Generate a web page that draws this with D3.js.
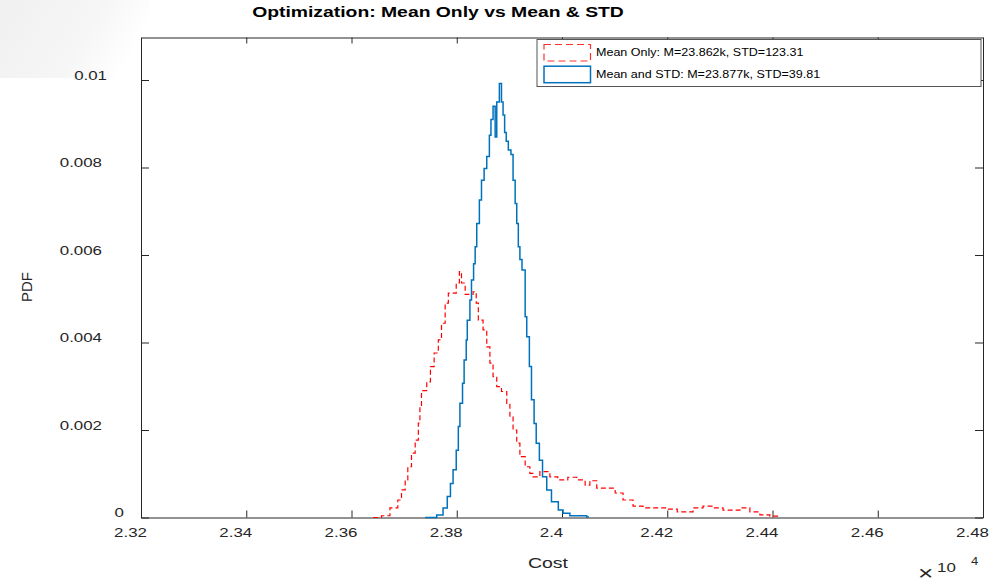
<meta charset="utf-8">
<html>
<head>
<style>
  body { margin: 0; background: #fff; }
  text { font-family: Arial, "Liberation Sans", Helvetica, sans-serif; fill: #262626; }
  .axis line, .axis path { stroke: #262626; stroke-width: 1; }
  .axis text { font-size: 13px; fill: #262626; }
</style>
</head>
<body>
<script src="https://cdnjs.cloudflare.com/ajax/libs/d3/7.8.5/d3.min.js"></script>
<div id="chart"></div>
<script>
// cost values are in units of 10^4, pdf values as plotted
var costMeanOnly = [2.3641,2.3657,2.3673,2.3688,2.3695,2.3702,2.3707,2.3714,2.3721,2.3727,
  2.3730,2.3733,2.3743,2.3750,2.3757,2.3765,2.3771,2.3778,2.3784,2.3793,
  2.3799,2.3805,2.3809,2.3816,2.3825,2.3831,2.3837,2.3841,2.3850,2.3857,
  2.3863,2.3869,2.3876,2.3885,2.3895,2.3901,2.3907,2.3914,2.3920,2.3930,
  2.3939,2.3945,2.3958,2.3977,2.3992,2.4011,2.4028,2.4044,2.4053,2.4066,
  2.4082,2.4101,2.4116,2.4135,2.4154,2.4181,2.4201,2.4219,2.4234,2.4249,
  2.4268,2.4287,2.4306,2.4325,2.4338,2.4357,2.4376,2.4395,2.4414];
var pdfMeanOnly = [0,0.00004,0.00022,0.0004,0.00063,0.00086,0.00116,0.00147,0.00177,0.00216,
  0.00253,0.0029,0.0031,0.00345,0.00376,0.00406,0.00444,0.0049,0.00513,0.00513,
  0.00536,0.00562,0.00536,0.0051,0.0051,0.00516,0.0049,0.00451,0.00429,0.0039,
  0.00353,0.00322,0.00299,0.00288,0.00261,0.0023,0.002,0.0017,0.00139,0.00116,
  0.00101,0.00093,0.00105,0.00093,0.00086,0.00092,0.00086,0.00074,0.00084,0.00067,
  0.00067,0.00056,0.0004,0.00026,0.00022,0.00022,0.00019,0.00013,0.00013,0.00022,
  0.00026,0.00022,0.00017,0.00017,0.00022,0.00013,0.00006,0.00003,0];

var costMeanStd = [2.3740,2.3762,2.3774,2.3782,2.3788,2.3793,2.3799,2.3803,2.3806,2.3811,
  2.3814,2.3818,2.3820,2.3825,2.3828,2.3832,2.3835,2.3838,2.3843,2.3847,
  2.3852,2.3857,2.3862,2.3865,2.3869,2.3873,2.3876,2.3881,2.3885,2.3888,
  2.3891,2.3894,2.3898,2.3903,2.3907,2.3911,2.3914,2.3917,2.3920,2.3924,
  2.3930,2.3933,2.3938,2.3942,2.3947,2.3951,2.3957,2.3963,2.3971,2.3980,
  2.3993,2.4002,2.4015,2.4047,2.4050];
var pdfMeanStd = [0,0.00006,0.00022,0.00048,0.00078,0.00109,0.00154,0.00208,0.00261,0.00307,
  0.0036,0.00406,0.00451,0.00497,0.00543,0.0058,0.00619,0.00672,0.00726,0.00771,
  0.00798,0.00825,0.00874,0.0091,0.0094,0.0087,0.0095,0.00992,0.0095,0.0092,
  0.0088,0.0086,0.0084,0.0083,0.00771,0.00718,0.00672,0.00619,0.0059,0.00566,
  0.00459,0.00413,0.00345,0.00269,0.00215,0.0017,0.00131,0.00093,0.00063,0.00036,
  0.00017,0.0001,0.00004,0.00001,0];

var xTicks = [2.32,2.34,2.36,2.38,2.40,2.42,2.44,2.46,2.48];
var xTickLabels = ["2.32","2.34","2.36","2.38","2.4","2.42","2.44","2.46","2.48"];
var yTicks = [0,0.002,0.004,0.006,0.008,0.01];
var yTickLabels = ["0","0.002","0.004","0.006","0.008","0.01"];
var seriesNames = ["Mean Only: M=23.862k, STD=123.31", "Mean and STD: M=23.877k, STD=39.81"];

var W = 989, H = 584;
var margin = {top: 37.5, right: 6, bottom: 66.5, left: 141},
    width = W - margin.left - margin.right,
    height = H - margin.top - margin.bottom;

var svg = d3.select("#chart").append("svg")
    .attr("width", W).attr("height", H);

// faint paper texture in the corner of the original screenshot
var defs = svg.append("defs");
var grad = defs.append("linearGradient").attr("id", "paper")
    .attr("x1", 0).attr("y1", 0).attr("x2", 1).attr("y2", 0.3);
grad.append("stop").attr("offset", "0%").attr("stop-color", "#f0f0f0");
grad.append("stop").attr("offset", "65%").attr("stop-color", "#f6f6f6");
grad.append("stop").attr("offset", "100%").attr("stop-color", "#ffffff");
svg.append("rect").attr("x", 0).attr("y", 0).attr("width", 150).attr("height", 78)
    .attr("fill", "url(#paper)");

// text in the picture is stretched sideways a bit
function stretch(sel, k, origin) {
  sel.style("transform-box", "fill-box")
     .style("transform-origin", origin)
     .style("transform", "scaleX(" + k + ")");
}

var g = svg.append("g")
    .attr("transform", "translate(" + margin.left + "," + margin.top + ")");

var x = d3.scaleLinear().domain([2.32, 2.48]).range([0, width]);
var y = d3.scaleLinear().domain([0, 0.01 * height / 437.5]).range([height, 0]);

g.append("rect").attr("width", width).attr("height", height).attr("fill", "#fff");

// axes (ticks point inward, box on)
var xAxis = g.append("g").attr("class", "axis")
    .attr("transform", "translate(0," + height + ")")
    .call(d3.axisBottom(x).tickValues(xTicks).tickSize(-7).tickSizeOuter(0).tickPadding(10)
      .tickFormat(function(d, i) { return xTickLabels[i]; }));
xAxis.selectAll("text").attr("dx", -11).call(stretch, 1.3, "center");

g.append("g").attr("class", "axis")
    .call(d3.axisTop(x).tickValues(xTicks).tickSize(-6).tickSizeOuter(0).tickFormat(""));

var yAxis = g.append("g").attr("class", "axis")
    .call(d3.axisLeft(y).tickValues(yTicks).tickSize(-8).tickSizeOuter(0).tickPadding(39)
      .tickFormat(function(d, i) { return yTickLabels[i]; }));
yAxis.selectAll("text").attr("dy", "-0.07em")
    .attr("dx", function(d) { return d === 0 ? 22 : (d === 0.01 ? 5 : 0); })
    .call(stretch, 1.3, "right");

g.append("g").attr("class", "axis")
    .attr("transform", "translate(" + width + ",0)")
    .call(d3.axisRight(y).tickValues(yTicks).tickSize(-8).tickSizeOuter(0).tickFormat(""));

// stairs
var meanOnly = d3.zip(costMeanOnly, pdfMeanOnly);
var meanStd = d3.zip(costMeanStd, pdfMeanStd);

var stairs = d3.line()
    .x(function(d) { return x(d[0]); })
    .y(function(d) { return y(d[1]); })
    .curve(d3.curveStepAfter);

g.append("path").datum(meanOnly)
    .attr("d", stairs)
    .attr("fill", "none")
    .attr("stroke", "#ff0000")
    .attr("stroke-width", 1.2)
    .attr("stroke-dasharray", "5,3");

g.append("path").datum(meanStd)
    .attr("d", stairs)
    .attr("fill", "none")
    .attr("stroke", "#0072bd")
    .attr("stroke-width", 1.5);

// title and labels
svg.append("text")
    .attr("x", 438).attr("y", 17)
    .attr("text-anchor", "middle")
    .style("font-size", "15px").style("font-weight", "bold").style("fill", "#000")
    .text("Optimization: Mean Only vs Mean & STD")
    .call(stretch, 1.29, "center");

svg.append("text")
    .attr("x", 548).attr("y", 568)
    .attr("text-anchor", "middle")
    .style("font-size", "15px")
    .text("Cost")
    .call(stretch, 1.3, "center");

svg.append("text")
    .attr("transform", "translate(32,287) rotate(-90)")
    .attr("text-anchor", "middle")
    .style("font-size", "15px")
    .text("PDF");

svg.append("text").attr("x", 918).attr("y", 572)
    .attr("dominant-baseline", "central")
    .style("font-size", "21px").text("\u00d7")
    .call(stretch, 1.25, "left");
svg.append("text").attr("x", 937).attr("y", 572)
    .style("font-size", "13px").text("10")
    .call(stretch, 1.3, "left");
svg.append("text").attr("x", 971).attr("y", 565)
    .style("font-size", "10px").text("4")
    .call(stretch, 1.3, "left");

// legend
var legend = svg.append("g").attr("transform", "translate(537,39.5)");
legend.append("rect")
    .attr("width", 444).attr("height", 47)
    .attr("fill", "#fff").attr("stroke", "#555").attr("stroke-width", 1);

var legendStyles = [
  {stroke: "#ff3030", dash: "7,4", w: 1.2},
  {stroke: "#0072bd", dash: null, w: 1.5}
];
seriesNames.forEach(function(name, i) {
  var row = legend.append("g").attr("transform", "translate(0," + (5 + i * 21.7) + ")");
  row.append("rect")
      .attr("x", 7).attr("y", 0).attr("width", 46.5).attr("height", 16.5)
      .attr("fill", "none")
      .attr("stroke", legendStyles[i].stroke)
      .attr("stroke-width", legendStyles[i].w)
      .attr("stroke-dasharray", legendStyles[i].dash);
  row.append("text")
      .attr("x", 59).attr("y", 12)
      .style("font-size", "11px").style("fill", "#000")
      .text(name)
      .call(stretch, 1.14, "left");
});
</script>
</body>
</html>
